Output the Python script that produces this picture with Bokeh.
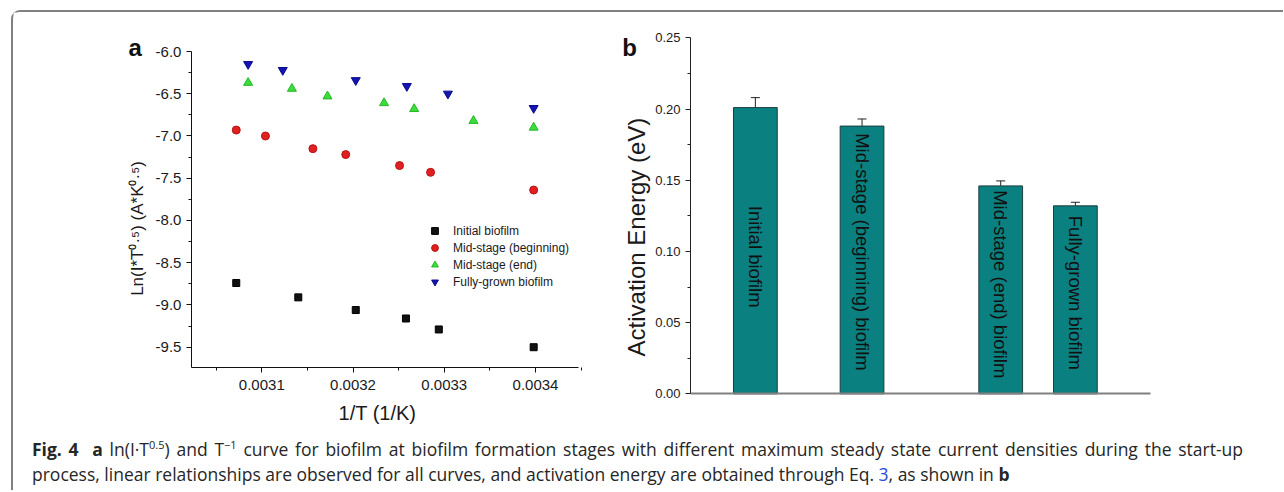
from math import pi
from bokeh.plotting import figure
from bokeh.models import (ColumnDataSource, Legend, LegendItem, Range1d, Whisker, TeeHead,
                          LinearAxis, Div, FixedTicker, PrintfTickFormatter)
from bokeh.layouts import column
from bokeh.embed import file_html
from bokeh.resources import INLINE
from bokeh.core.properties import value

FONT = "Liberation Sans"

# ---------------- panel a data ----------------
series_names = ["Initial biofilm", "Mid-stage (beginning)", "Mid-stage (end)", "Fully-grown biofilm"]
inv_T_initial = [0.003072, 0.003140, 0.003203, 0.003258, 0.003294, 0.003398]
ln_initial = [-8.74, -8.91, -9.06, -9.16, -9.29, -9.50]
inv_T_mid_begin = [0.003072, 0.003104, 0.003156, 0.003192, 0.003251, 0.003285, 0.003398]
ln_mid_begin = [-6.93, -7.00, -7.15, -7.22, -7.35, -7.43, -7.64]
inv_T_mid_end = [0.003085, 0.003133, 0.003172, 0.003234, 0.003267, 0.003332, 0.003398]
ln_mid_end = [-6.37, -6.44, -6.53, -6.61, -6.68, -6.82, -6.90]
inv_T_full = [0.003085, 0.003123, 0.003203, 0.003259, 0.003304, 0.003398]
ln_full = [-6.15, -6.22, -6.34, -6.41, -6.50, -6.67]
a_x_ticks = [0.0031, 0.0032, 0.0033, 0.0034]
a_y_ticks = [-9.5, -9.0, -8.5, -8.0, -7.5, -7.0, -6.5, -6.0]

# ---------------- panel b data ----------------
stages = ["Initial biofilm", "Mid-stage (beginning) biofilm", "Mid-stage (end) biofilm", "Fully-grown biofilm"]
stage_pos = [1, 2, 3.3, 4]
activation_energy = [0.201, 0.188, 0.146, 0.132]
activation_err = [0.007, 0.005, 0.0035, 0.0025]
bar_label_start = [0.132, 0.183, 0.143, 0.125]
b_y_ticks = [0.0, 0.05, 0.10, 0.15, 0.20, 0.25]

# ---------------- axis extents ----------------
A_X = (0.0030229, 0.003447)     # panel a x axis
A_Y = (-9.737, -6.0)            # panel a y axis
B_X = (0.3919, 4.705)           # panel b x axis
B_Y = (0.0, 0.25)               # panel b y axis


def style_axis(ax, size, color="#111111"):
    ax.axis_line_color = color
    ax.major_tick_line_color = color
    ax.minor_tick_line_color = color
    ax.major_tick_in = 0
    ax.major_tick_out = 5
    ax.minor_tick_in = 0
    ax.minor_tick_out = 3
    ax.major_label_text_font = FONT
    ax.major_label_text_font_size = size
    ax.major_label_text_color = "#1a1a1a"


# one canvas holding both panels (panel b uses its own ranges)
p = figure(width=1270, height=418,
           x_range=Range1d(0.00282784, 0.0042199), y_range=Range1d(-10.4858, -5.5384),
           x_axis_type=None, y_axis_type=None, min_border=0,
           output_backend="svg", toolbar_location=None)
p.extra_x_ranges = {"bx": Range1d(-5.9548, 5.9511)}
p.extra_y_ranges = {"by": Range1d(-0.025772, 0.26777)}
p.outline_line_color = None

# ================= panel a =================
r0 = p.scatter(inv_T_initial, ln_initial, marker="square", size=7,
               fill_color="#111111", line_color="#000000")
r1 = p.scatter(inv_T_mid_begin, ln_mid_begin, marker="circle", size=8,
               fill_color="#e02020", line_color="#b81414")
r2 = p.scatter(inv_T_mid_end, ln_mid_end, marker="triangle", size=9,
               fill_color="#3ddc3d", line_color="#22b822")
r3 = p.scatter(inv_T_full, ln_full, marker="inverted_triangle", size=9,
               fill_color="#1414b4", line_color="#0a0a8c")

ax_a = LinearAxis(fixed_location=A_Y[0], bounds=A_X,
                  ticker=FixedTicker(ticks=a_x_ticks,
                                     minor_ticks=[t - 0.00005 for t in a_x_ticks] + [a_x_ticks[-1] + 0.00005]),
                  formatter=PrintfTickFormatter(format="%.4f"))
style_axis(ax_a, "15px")
ax_a.major_label_standoff = 8
p.add_layout(ax_a, "below")

ay_a = LinearAxis(fixed_location=A_X[0], bounds=A_Y,
                  ticker=FixedTicker(ticks=a_y_ticks, minor_ticks=[t + 0.25 for t in a_y_ticks[:-1]]),
                  formatter=PrintfTickFormatter(format="%.1f"))
style_axis(ay_a, "15px")
p.add_layout(ay_a, "left")

legend = Legend(items=[LegendItem(label=n, renderers=[r]) for n, r in zip(series_names, [r0, r1, r2, r3])],
                location=(413, 140), border_line_color=None, background_fill_alpha=0,
                label_text_font=FONT, label_text_font_size="12px", label_text_color="#1a1a1a",
                glyph_width=17, glyph_height=17, label_height=17, label_standoff=10,
                spacing=0, padding=0, margin=0)
p.add_layout(legend, "center")

# texts of panel a (panel letter, axis titles)
p.text(x=[0.0029539], y=[-5.949], text=["a"], text_font=value(FONT), text_font_size="24px",
       text_font_style="bold", text_color="#111111", text_baseline="alphabetic")
p.text(x=[0.0029638], y=[-8.095], text=["Ln(I*T\u2070\u00b7\u2075) (A*K\u2070\u00b7\u2075)"],
       angle=pi / 2, text_align="center", text_baseline="middle",
       text_font=value(FONT), text_font_size="17px", text_color="#1a1a1a")
p.text(x=[0.0032268], y=[-10.273], text=["1/T (1/K)"], text_align="center", text_baseline="middle",
       text_font=value(FONT), text_font_size="20px", text_color="#1a1a1a")

# ================= panel b =================
src = ColumnDataSource(dict(x=stage_pos, top=activation_energy,
                            upper=[v + e for v, e in zip(activation_energy, activation_err)],
                            name=stages, ly=bar_label_start))
p.vbar(x="x", top="top", bottom=0, width=0.41, source=src, x_range_name="bx", y_range_name="by",
       fill_color="#0b8080", line_color="#1d3d3d", line_width=1)
p.add_layout(Whisker(source=src, base="x", upper="upper", lower="top", line_color="#222222",
                     x_range_name="bx", y_range_name="by",
                     lower_head=None, upper_head=TeeHead(size=9, line_color="#222222")))
p.text(x="x", y="ly", text="name", source=src, x_range_name="bx", y_range_name="by",
       angle=-pi / 2, text_align="left", text_baseline="middle",
       text_font=value(FONT), text_font_size="18.5px", text_color="#111111")

ay_b = LinearAxis(x_range_name="bx", y_range_name="by", fixed_location=B_X[0], bounds=B_Y,
                  ticker=FixedTicker(ticks=b_y_ticks, minor_ticks=[t + 0.025 for t in b_y_ticks[:-1]]),
                  formatter=PrintfTickFormatter(format="%.2f"))
style_axis(ay_b, "13px", "#222222")
p.add_layout(ay_b, "left")

ax_b = LinearAxis(x_range_name="bx", y_range_name="by", fixed_location=B_Y[0], bounds=B_X,
                  ticker=FixedTicker(ticks=[]))
ax_b.axis_line_color = "#808080"
ax_b.axis_line_width = 2
ax_b.major_tick_line_color = None
ax_b.minor_tick_line_color = None
ax_b.major_label_text_font_size = "0px"
p.add_layout(ax_b, "below")

p.text(x=[-0.2484], y=[0.2434], text=["b"], x_range_name="bx", y_range_name="by",
       text_font=value(FONT), text_font_size="24px", text_font_style="bold",
       text_color="#111111", text_baseline="alphabetic")
p.text(x=[-0.1144], y=[0.1101], text=["Activation Energy (eV)"], x_range_name="bx", y_range_name="by",
       angle=pi / 2, text_align="center", text_baseline="middle",
       text_font=value(FONT), text_font_size="24px", text_color="#1a1a1a")

# ================= caption =================
SUP = '<sup style="font-size:11px; line-height:0">'
cap_html = (
    '<div style="padding:7px 0 0 19px; font-family:\'Open Sans\'; font-size:17.5px; line-height:25px; '
    'color:#262626;">'
    '<div style="width:1211px; text-align:justify; text-align-last:justify;">'
    '<b>Fig. 4</b>&nbsp; <b>a</b> ln(I&middot;T' + SUP + '0.5</sup>) and '
    'T' + SUP + '&minus;1</sup> curve for biofilm at biofilm formation stages with '
    'different maximum steady state current densities during the start-up</div>'
    '<div style="white-space:nowrap;">'
    'process, linear relationships are observed for all curves, and activation energy are obtained '
    'through Eq. <span style="color:#2a4bd7">3</span>, as shown in <b>b</b></div></div>'
)
cap = Div(text=cap_html, width=1270, height=60, margin=0, styles={"overflow": "hidden"})

layout = column(p, cap, margin=(10, 0, 0, 11),
                styles={"border-top": "2px solid #808080", "border-left": "2px solid #808080",
                        "border-top-left-radius": "9px"})

open("out.html", "w").write(file_html(layout, INLINE))
